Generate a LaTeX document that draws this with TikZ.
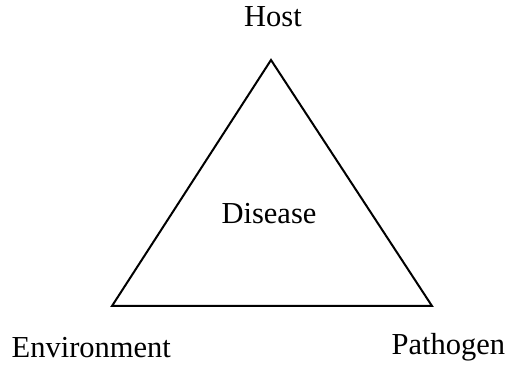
\documentclass[tikz,border=0pt]{standalone}
\usepackage{fontspec}
\setmainfont{Liberation Serif}
\begin{document}
\begin{tikzpicture}[x=1pt,y=1pt,
  lbl/.style={inner sep=0pt, font=\fontsize{30.5}{36}\selectfont},
  edge/.style={line width=2pt, line join=miter}]
\useasboundingbox (0,0) rectangle (509,366);
\coordinate (H) at (271,306);
\coordinate (E) at (112,60);
\coordinate (P) at (432,60);
\draw[edge] (H) -- (E) -- (P) -- cycle;
\node[lbl, anchor=base] (host) at (273,339) {Host};
\node[lbl, anchor=base] (dis) at (269,142) {Disease};
\node[lbl, anchor=base west] (env) at (11.5,8) {Environment};
\node[lbl, anchor=base west] (path) at (391.5,11) {Pathogen};
\end{tikzpicture}
\end{document}
